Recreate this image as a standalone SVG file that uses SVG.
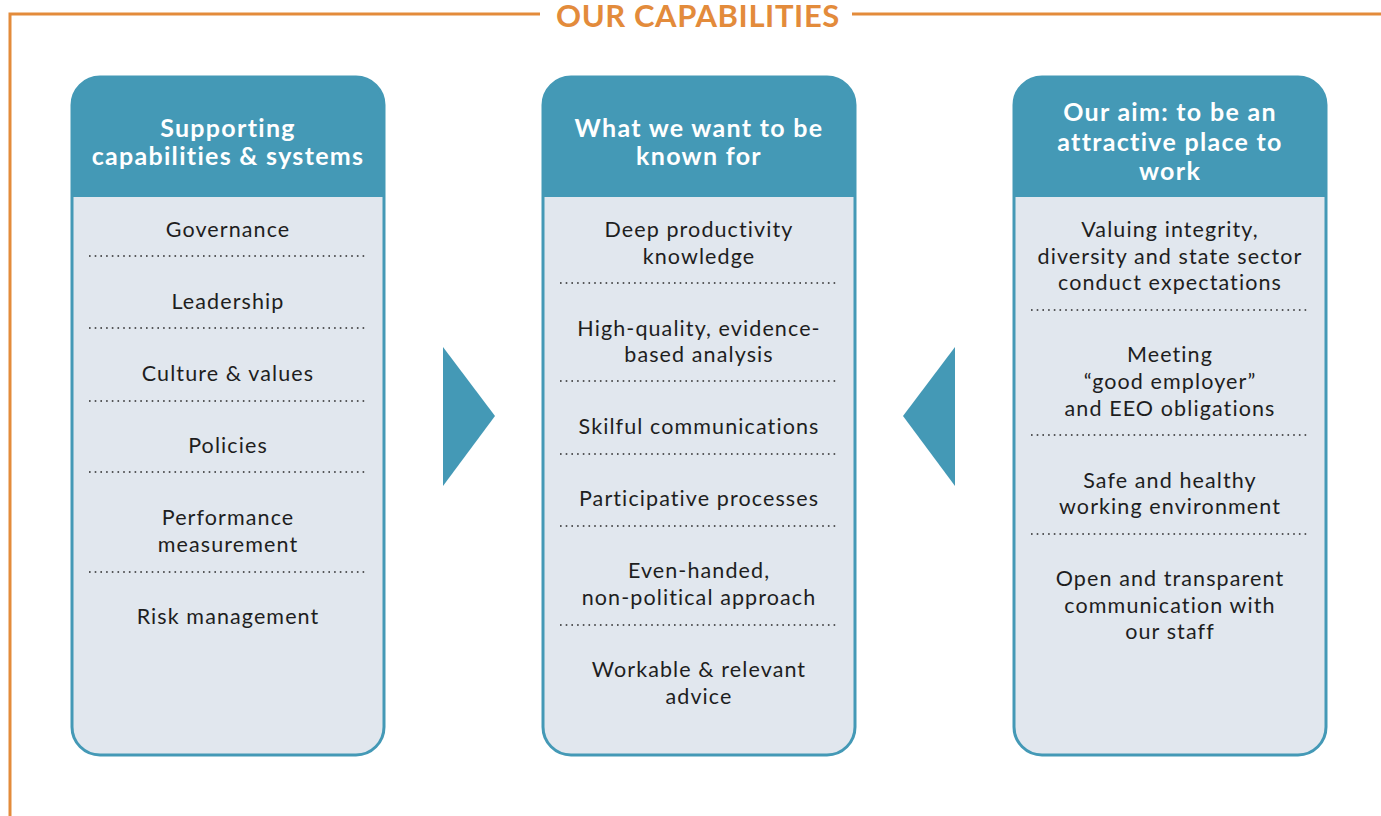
<svg xmlns="http://www.w3.org/2000/svg" width="1381" height="816" viewBox="0 0 1381 816">
<style>
.frame{fill:none;stroke:#e38b3b;stroke-width:3}
.title{font-family:Lato,"Noto Sans",sans-serif;font-weight:700;font-size:31px;letter-spacing:0.6px;fill:#e38b3b;text-anchor:middle}
.body{fill:#e1e7ee}
.hdr{fill:#4499b6}
.outline{fill:none;stroke:#4499b6;stroke-width:3}
.ht{font-family:Lato,"Noto Sans",sans-serif;font-weight:700;font-size:25px;letter-spacing:1.3px;fill:#ffffff;text-anchor:middle}
.t{font-family:Lato,"Noto Sans",sans-serif;font-size:21.5px;letter-spacing:1.1px;fill:#1e1e1e;text-anchor:middle}
.dot{stroke:#2a2a2a;stroke-width:1.6;stroke-dasharray:1.6 4.1;fill:none}
.arrow{fill:#4499b6}
</style>
<g id="frame">
<path class="frame" d="M10,816 V14 H540 M852,14 H1381"/>
<text class="title" x="698" y="27">OUR CAPABILITIES</text>
</g>
<g id="connectors">
<polygon class="arrow" points="443,347 495,416 443,486"/>
<polygon class="arrow" points="955,347 903,416 955,486"/>
</g>
<g id="panel-supporting">
<rect class="body" x="72" y="77" width="312" height="678" rx="28"/>
<path class="hdr" d="M72,197 V105 A28,28 0 0 1 100,77 H356 A28,28 0 0 1 384,105 V197 Z"/>
<rect class="outline" x="72" y="77" width="312" height="678" rx="28"/>
<text class="ht" x="228" y="137">Supporting</text>
<text class="ht" x="228" y="165">capabilities &amp; systems</text>
<text class="t" x="228" y="237">Governance</text>
<line class="dot" x1="89" y1="256" x2="367" y2="256"/>
<text class="t" x="228" y="309">Leadership</text>
<line class="dot" x1="89" y1="328" x2="367" y2="328"/>
<text class="t" x="228" y="381">Culture &amp; values</text>
<line class="dot" x1="89" y1="401" x2="367" y2="401"/>
<text class="t" x="228" y="453">Policies</text>
<line class="dot" x1="89" y1="472" x2="367" y2="472"/>
<text class="t" x="228" y="525">Performance</text>
<text class="t" x="228" y="552">measurement</text>
<line class="dot" x1="89" y1="572" x2="367" y2="572"/>
<text class="t" x="228" y="624">Risk management</text>
</g>
<g id="panel-known-for">
<rect class="body" x="543" y="77" width="312" height="678" rx="28"/>
<path class="hdr" d="M543,197 V105 A28,28 0 0 1 571,77 H827 A28,28 0 0 1 855,105 V197 Z"/>
<rect class="outline" x="543" y="77" width="312" height="678" rx="28"/>
<text class="ht" x="699" y="137">What we want to be</text>
<text class="ht" x="699" y="165">known for</text>
<text class="t" x="699" y="237">Deep productivity</text>
<text class="t" x="699" y="264">knowledge</text>
<line class="dot" x1="560" y1="283" x2="838" y2="283"/>
<text class="t" x="699" y="336">High-quality, evidence-</text>
<text class="t" x="699" y="362">based analysis</text>
<line class="dot" x1="560" y1="381" x2="838" y2="381"/>
<text class="t" x="699" y="434">Skilful communications</text>
<line class="dot" x1="560" y1="454" x2="838" y2="454"/>
<text class="t" x="699" y="506">Participative processes</text>
<line class="dot" x1="560" y1="526" x2="838" y2="526"/>
<text class="t" x="699" y="578">Even-handed,</text>
<text class="t" x="699" y="605">non-political approach</text>
<line class="dot" x1="560" y1="625" x2="838" y2="625"/>
<text class="t" x="699" y="677">Workable &amp; relevant</text>
<text class="t" x="699" y="704">advice</text>
</g>
<g id="panel-aim">
<rect class="body" x="1014" y="77" width="312" height="678" rx="28"/>
<path class="hdr" d="M1014,197 V105 A28,28 0 0 1 1042,77 H1298 A28,28 0 0 1 1326,105 V197 Z"/>
<rect class="outline" x="1014" y="77" width="312" height="678" rx="28"/>
<text class="ht" x="1170" y="121">Our aim: to be an</text>
<text class="ht" x="1170" y="151">attractive place to</text>
<text class="ht" x="1170" y="180">work</text>
<text class="t" x="1170" y="237">Valuing integrity,</text>
<text class="t" x="1170" y="264">diversity and state sector</text>
<text class="t" x="1170" y="290">conduct expectations</text>
<line class="dot" x1="1031" y1="310" x2="1309" y2="310"/>
<text class="t" x="1170" y="362">Meeting</text>
<text class="t" x="1170" y="389">“good employer”</text>
<text class="t" x="1170" y="416">and EEO obligations</text>
<line class="dot" x1="1031" y1="435" x2="1309" y2="435"/>
<text class="t" x="1170" y="488">Safe and healthy</text>
<text class="t" x="1170" y="514">working environment</text>
<line class="dot" x1="1031" y1="534" x2="1309" y2="534"/>
<text class="t" x="1170" y="586">Open and transparent</text>
<text class="t" x="1170" y="613">communication with</text>
<text class="t" x="1170" y="639">our staff</text>
</g>
</svg>
